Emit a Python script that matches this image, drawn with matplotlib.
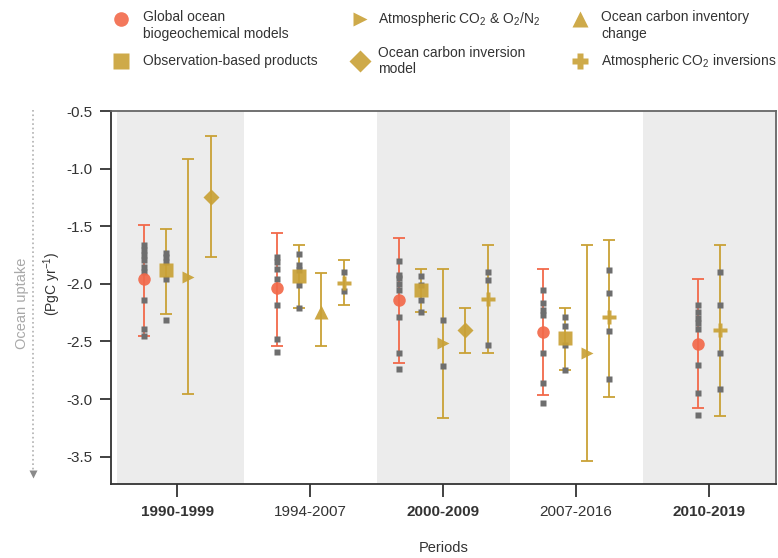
import numpy as np
import matplotlib.pyplot as plt
from matplotlib.lines import Line2D

plt.rcParams['font.family'] = ['Liberation Sans', 'DejaVu Sans']
plt.rcParams['mathtext.default'] = 'regular'

nan = np.nan

# periods on the x axis
periods = ["1990-1999", "1994-2007", "2000-2009", "2007-2016", "2010-2019"]
period_bold = [True, False, True, False, True]

# Global ocean biogeochemical models
gobm_mean = [-1.96, -2.04, -2.14, -2.42, -2.52]
gobm_hi = [-1.49, -1.555, -1.60, -1.87, -1.96]
gobm_lo = [-2.45, -2.54, -2.69, -2.965, -3.08]
gobm_members = [
    [-1.66, -1.71, -1.75, -1.79, -1.85, -1.90, -2.14, -2.39, -2.45],
    [-1.77, -1.81, -1.875, -1.96, -2.18, -2.48, -2.59],
    [-1.80, -1.92, -1.95, -2.00, -2.05, -2.29, -2.60, -2.74],
    [-2.055, -2.165, -2.23, -2.27, -2.60, -2.86, -3.03],
    [-2.18, -2.24, -2.30, -2.34, -2.39, -2.70, -2.95, -3.14],
]

# Observation-based products
obs_mean = [-1.88, -1.93, -2.055, -2.47, nan]
obs_hi = [-1.52, -1.66, -1.87, -2.21, nan]
obs_lo = [-2.26, -2.21, -2.24, -2.75, nan]
obs_members = [
    [-1.73, -1.77, -1.81, -1.96, -2.31],
    [-1.74, -1.84, -1.88, -2.01, -2.21],
    [-1.93, -2.01, -2.14, -2.24],
    [-2.29, -2.37, -2.53, -2.75],
    [],
]

# Atmospheric CO2 & O2/N2
o2_mean = [-1.94, nan, -2.51, -2.60, nan]
o2_hi = [-0.92, nan, -1.87, -1.66, nan]
o2_lo = [-2.96, nan, -3.16, -3.54, nan]
o2_members = [[], [], [-2.31, -2.71], [], []]

# Ocean carbon inversion model
ocinv_mean = [-1.25, nan, -2.40, nan, nan]
ocinv_hi = [-0.72, nan, -2.21, nan, nan]
ocinv_lo = [-1.77, nan, -2.60, nan, nan]
ocinv_members = [[], [], [], [], []]

# Ocean carbon inventory change
invent_mean = [nan, -2.24, nan, nan, nan]
invent_hi = [nan, -1.91, nan, nan, nan]
invent_lo = [nan, -2.54, nan, nan, nan]
invent_members = [[], [], [], [], []]

# Atmospheric CO2 inversions
atminv_mean = [nan, -1.99, -2.13, -2.29, -2.40]
atminv_hi = [nan, -1.79, -1.665, -1.615, -1.66]
atminv_lo = [nan, -2.18, -2.60, -2.985, -3.145]
atminv_members = [
    [],
    [-1.90, -2.06],
    [-1.90, -1.97, -2.53],
    [-1.88, -2.08, -2.41, -2.83],
    [-1.90, -2.185, -2.60, -2.91],
]

orange = '#f2694a'
gold = '#c9a136'
dots = '#6e6e6e'

series = [
    (gobm_mean, gobm_lo, gobm_hi, gobm_members, 'o', orange, 9),
    (obs_mean, obs_lo, obs_hi, obs_members, 's', gold, 9.5),
    (o2_mean, o2_lo, o2_hi, o2_members, '>', gold, 9),
    (ocinv_mean, ocinv_lo, ocinv_hi, ocinv_members, 'D', gold, 8.5),
    (invent_mean, invent_lo, invent_hi, invent_members, '^', gold, 9.5),
    (atminv_mean, atminv_lo, atminv_hi, atminv_members, 'P', gold, 10),
]

fig = plt.figure(figsize=(7.78, 5.58), dpi=100)
ax = fig.add_axes([0.1423, 0.132, 0.8547, 0.669])

# shaded decades
for i in (0, 2, 4):
    ax.axvspan(i - 0.45 if i == 0 else i - 0.5, i + 0.5, color='#ececec', lw=0, zorder=0)

step = 0.167
for i in range(len(periods)):
    present = [s for s in series if not np.isnan(s[0][i])]
    k = len(present)
    for j, (mean, lo, hi, members, mk, col, ms) in enumerate(present):
        x = i + (j - (k - 1) / 2) * step
        ax.errorbar([x], [mean[i]], yerr=[[mean[i] - lo[i]], [hi[i] - mean[i]]],
                    fmt='none', ecolor=col, elinewidth=1.3, capsize=4, capthick=1.3, zorder=2)
        if members[i]:
            ax.plot([x] * len(members[i]), members[i], 's', ms=4, color=dots,
                    mec='none', zorder=3)
        ax.plot([x], [mean[i]], mk, ms=ms, color=col, mec='none', alpha=0.92, zorder=4)

ax.set_xlim(-0.5, 4.5)
ax.set_ylim(-3.74, -0.5)
ax.set_xticks(range(len(periods)))
ax.set_xticklabels(periods)
for lab, b in zip(ax.get_xticklabels(), period_bold):
    lab.set_fontweight('bold' if b else 'normal')
yt = np.arange(-3.5, -0.49, 0.5)
ax.set_yticks(yt)
ax.set_yticklabels([f"{v:.1f}" for v in yt])
ax.tick_params(axis='y', direction='out', length=8, width=1.3, colors='#333333',
               labelsize=11, pad=5)
ax.tick_params(axis='x', direction='out', length=9, width=1.3, colors='#333333',
               labelsize=11, pad=6)
for name, sp in ax.spines.items():
    sp.set_color('#333333' if name in ('left', 'bottom') else '#666666')
    sp.set_linewidth(1.3)
ax.set_xlabel('Periods', fontsize=10.5, color='#333333', labelpad=16)

# y-axis annotations
W, H = 778, 558
fig.text(52 / W, 1 - 284 / H, '(PgC yr$^{-1}$)', rotation=90, ha='center', va='center',
         fontsize=10, color='#333333')
fig.text(22 / W, 1 - 303 / H, 'Ocean uptake', rotation=90, ha='center', va='center',
         fontsize=10.5, color='#a8a8a8')
fig.add_artist(Line2D([33 / W, 33 / W], [1 - 110 / H, 1 - 472 / H], transform=fig.transFigure,
                      ls=':', lw=1.2, color='#b0b0b0'))
fig.add_artist(Line2D([33 / W], [1 - 474 / H], transform=fig.transFigure, marker='v',
                      ms=6, color='#8a8a8a', mec='none', ls='none'))

# legend drawn by hand in three columns
leg_labels = [
    "Global ocean\nbiogeochemical models",
    "Observation-based products",
    "Atmospheric CO$_2$ & O$_2$/N$_2$",
    "Ocean carbon inversion\nmodel",
    "Ocean carbon inventory\nchange",
    "Atmospheric CO$_2$ inversions",
]
leg_markers = ['o', 's', '>', 'D', '^', 'P']
leg_colors = [orange, gold, gold, gold, gold, gold]
leg_sizes = [10.5, 11, 10.5, 11, 11, 12]
col_mx = [121, 360, 580]
col_tx = [143, 378, 601]
row_my = [19, 61]
for n, (lab, mk, c, s) in enumerate(zip(leg_labels, leg_markers, leg_colors, leg_sizes)):
    col, row = n // 2, n % 2
    fig.add_artist(Line2D([col_mx[col] / W], [1 - row_my[row] / H], transform=fig.transFigure,
                          marker=mk, ms=s, color=c, mec='none', ls='none', alpha=0.9))
    if row == 0:
        fig.text(col_tx[col] / W, 1 - 10 / H, lab, ha='left', va='top', fontsize=10,
                 color='#333333', linespacing=1.25)
    else:
        fig.text(col_tx[col] / W, 1 - 61 / H, lab, ha='left', va='center', fontsize=10,
                 color='#333333', linespacing=1.25)

fig.savefig('out.png', dpi=100)
